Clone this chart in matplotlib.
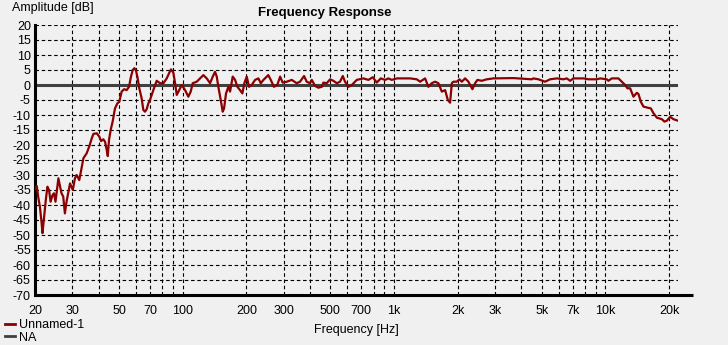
import matplotlib
matplotlib.use("Agg")
import matplotlib.pyplot as plt
from matplotlib.lines import Line2D

plt.rcParams['font.family'] = ['Liberation Sans', 'DejaVu Sans']

# Frequency response data (Hz, dB)
freq_hz = [
    20.0, 20.4, 20.7, 21.1, 21.5, 21.7, 22.1, 22.5, 22.9, 23.3, 23.7, 24.2, 24.6, 25.0,
    25.3, 25.8, 26.3, 26.7, 27.2, 27.7, 28.2, 28.8, 29.3, 30.2, 30.9, 31.5, 32.4, 33.3,
    33.9, 35.1, 36.2, 37.1, 37.8, 39.2, 40.3, 41.1, 42.1, 42.9, 43.7, 44.2, 44.8, 45.6,
    46.6, 47.8, 49.1, 50.1, 51.4, 52.8, 54.3, 55.7, 56.9, 58.0, 59.1, 60.1, 61.0, 62.3,
    63.9, 65.1, 66.3, 67.5, 68.8,
    70.0, 72.6, 75.3, 78.1, 81.0, 84.0, 86.4, 88.0, 90.3, 92.0, 93.7, 95.4, 99.0, 102.6,
    106.3, 109.1, 111.5, 116.5, 125.2, 129.9, 134.7, 138.7, 142.2, 144.9, 147.4, 151.3,
    154.6, 156.9, 160.3, 164.4, 167.5, 172.4, 176.9, 181.4, 186.7, 191.5, 195.7, 200.9,
    206, 212, 220, 228, 234, 241, 254, 261, 270, 280, 289, 297, 311, 328, 346, 359, 375,
    386, 400, 408, 423, 438, 455, 463, 480, 498, 516, 536, 555, 572, 586, 608, 631, 666,
    716, 756, 793, 828, 865, 907, 940, 975, 1030, 1107, 1191, 1281, 1328, 1402, 1453,
    1508, 1563, 1621, 1682, 1744, 1796, 1841,
    1876, 1909, 1980, 2038, 2092, 2168, 2247, 2348, 2418, 2480, 2600, 2746, 2952, 3669,
    4485, 4564, 4818, 5184, 5474, 5888, 6328, 6566, 6808, 7056, 7868, 8310, 9108, 9442,
    10152, 10332, 10722, 11524, 11958, 12396, 12710, 13090, 13570, 14082, 14332, 14710,
    15134, 15704, 16406, 16878, 17514, 18492, 19022, 19528, 20240, 20980, 22050,
]
amp_db = [
    -34.5, -33.7, -37.2, -40.6, -46.1, -49.4, -43.9, -38.3, -33.9, -35.0, -38.9, -36.7,
    -36.1, -38.9, -36.1, -31.1, -33.9, -36.1, -37.2, -42.8, -38.9, -35.6, -32.8, -35.0,
    -31.1, -30.0, -31.7, -27.2, -24.4, -22.8, -20.3, -17.8, -16.3, -16.1, -17.2, -18.7,
    -18.1, -18.9, -21.7, -23.7, -18.3, -15.0, -12.2, -7.8, -6.1, -5.6, -2.2, -1.4, -1.7,
    -0.6, 2.8, 5.0, 5.6, 4.8, 2.8, -1.1, -4.4, -8.3, -8.9, -8.1, -6.1,
    -5.0, -1.7, 1.4, 0.6, 0.6, 2.2, 4.1, 5.2, 4.1, 0.6, -3.3, -2.2, 0.0, -1.7,
    -3.9, -2.2, 0.6, 1.1, 3.3, 2.2, 0.6, 2.8, 4.4, 2.8, -0.6, -5.0,
    -8.9, -7.8, -2.8, -0.6, -2.2, 2.8, 1.7, -0.6, -1.7, -2.8, 0.6, 2.8,
    -0.6, 0.0, 1.7, 2.2, 0.6, 1.7, 3.3, 1.7, -0.6, 0.0, 2.8, 0.8, 1.1, 1.7, 0.6, 1.1, 3.0,
    1.1, 0.6, 1.7, -0.3, -0.9, -0.6, 0.8, 0.6, 1.9, 1.4, 0.6, 1.1, 3.0, 1.1, -0.6, 0.0, 1.7,
    2.2, 1.7, 2.6, 0.8, 2.2, 1.7, 2.2, 1.7, 2.2, 2.2, 2.2, 1.9, 1.1, 2.2, -0.6,
    0.6, 1.1, 0.6, -2.2, -1.7, -5.0, -5.9,
    0.6, 1.1, 1.1, 1.9, 1.1, 2.2, 1.1, -1.4, 0.6, 1.7, 1.4, 1.9, 2.2, 2.3,
    1.9, 2.2, 1.9, 1.1, 1.9, 2.2, 1.9, 2.2, 1.4, 2.2, 2.2, 1.9, 1.9, 2.2,
    1.9, 1.4, 2.2, 2.2, 1.1, 0.0, -1.1, -1.1, -3.9, -2.6, -3.0, -5.6,
    -7.2, -7.5, -7.8, -9.4, -10.9, -11.4, -12.2, -11.9, -10.6, -11.4, -11.9,
]

x_ticks = [20, 30, 50, 70, 100, 200, 300, 500, 700, 1000, 2000, 3000, 5000, 7000, 10000, 20000]
x_tick_labels = ["20", "30", "50", "70", "100", "200", "300", "500", "700", "1k",
                 "2k", "3k", "5k", "7k", "10k", "20k"]
x_minor_grid = [40, 60, 80, 90, 400, 600, 800, 900, 4000, 6000, 8000, 9000]
y_ticks = list(range(-70, 25, 5))

bg = "#f0f0f0"
fig = plt.figure(figsize=(7.28, 3.45), dpi=100, facecolor=bg)
ax = fig.add_axes([35/728, 1-295/345, (678-35)/728, (295-25)/345], facecolor=bg)

ax.set_xscale("log")
ax.set_xlim(20, 22050)
ax.set_ylim(-70, 20)

dash = (0, (3.2, 2.4))
for xv in x_ticks + x_minor_grid:
    ax.axvline(xv, color="black", lw=0.8, ls=dash, zorder=1)
for yv in y_ticks:
    if yv != 0:
        ax.axhline(yv, color="black", lw=0.8, ls=dash, zorder=1)
ax.axhline(0, color="#404040", lw=2.2, zorder=2)

ax.plot(freq_hz, amp_db, color="#8b0000", lw=1.6, zorder=3)

ax.set_xticks(x_ticks)
ax.set_xticklabels(x_tick_labels)
ax.xaxis.set_minor_locator(matplotlib.ticker.NullLocator())
ax.set_yticks(y_ticks)
ax.set_yticklabels([str(v) for v in y_ticks])
ax.tick_params(axis="both", length=0, labelsize=9, colors="black")
ax.tick_params(axis="x", pad=7)
ax.tick_params(axis="y", pad=3)

for s in ["top", "right", "bottom"]:
    ax.spines[s].set_visible(False)
ax.spines["left"].set_linewidth(2.2)
ax.spines["left"].set_color("black")
ax.plot([0, 1.023], [0, 0], transform=ax.transAxes, color="black", lw=2.2,
        clip_on=False, zorder=4, solid_capstyle="butt")

fig.text(325/728, 1-13/345, "Frequency Response", ha="center", va="center",
         fontsize=9.5, fontweight="bold")
fig.text(12/728, 1-8/345, "Amplitude [dB]", ha="left", va="center", fontsize=9)
ax.set_xlabel("Frequency [Hz]", fontsize=9, labelpad=5)

handles = [Line2D([], [], color="#8b0000", lw=2), Line2D([], [], color="#404040", lw=2)]
fig.legend(handles, ["Unnamed-1", "NA"], loc="lower left", bbox_to_anchor=(-0.004, -0.018),
           frameon=False, fontsize=9, handlelength=0.8, handletextpad=0.35,
           labelspacing=0.05, borderaxespad=0.2)

fig.savefig("out.png", dpi=100, facecolor=bg)
